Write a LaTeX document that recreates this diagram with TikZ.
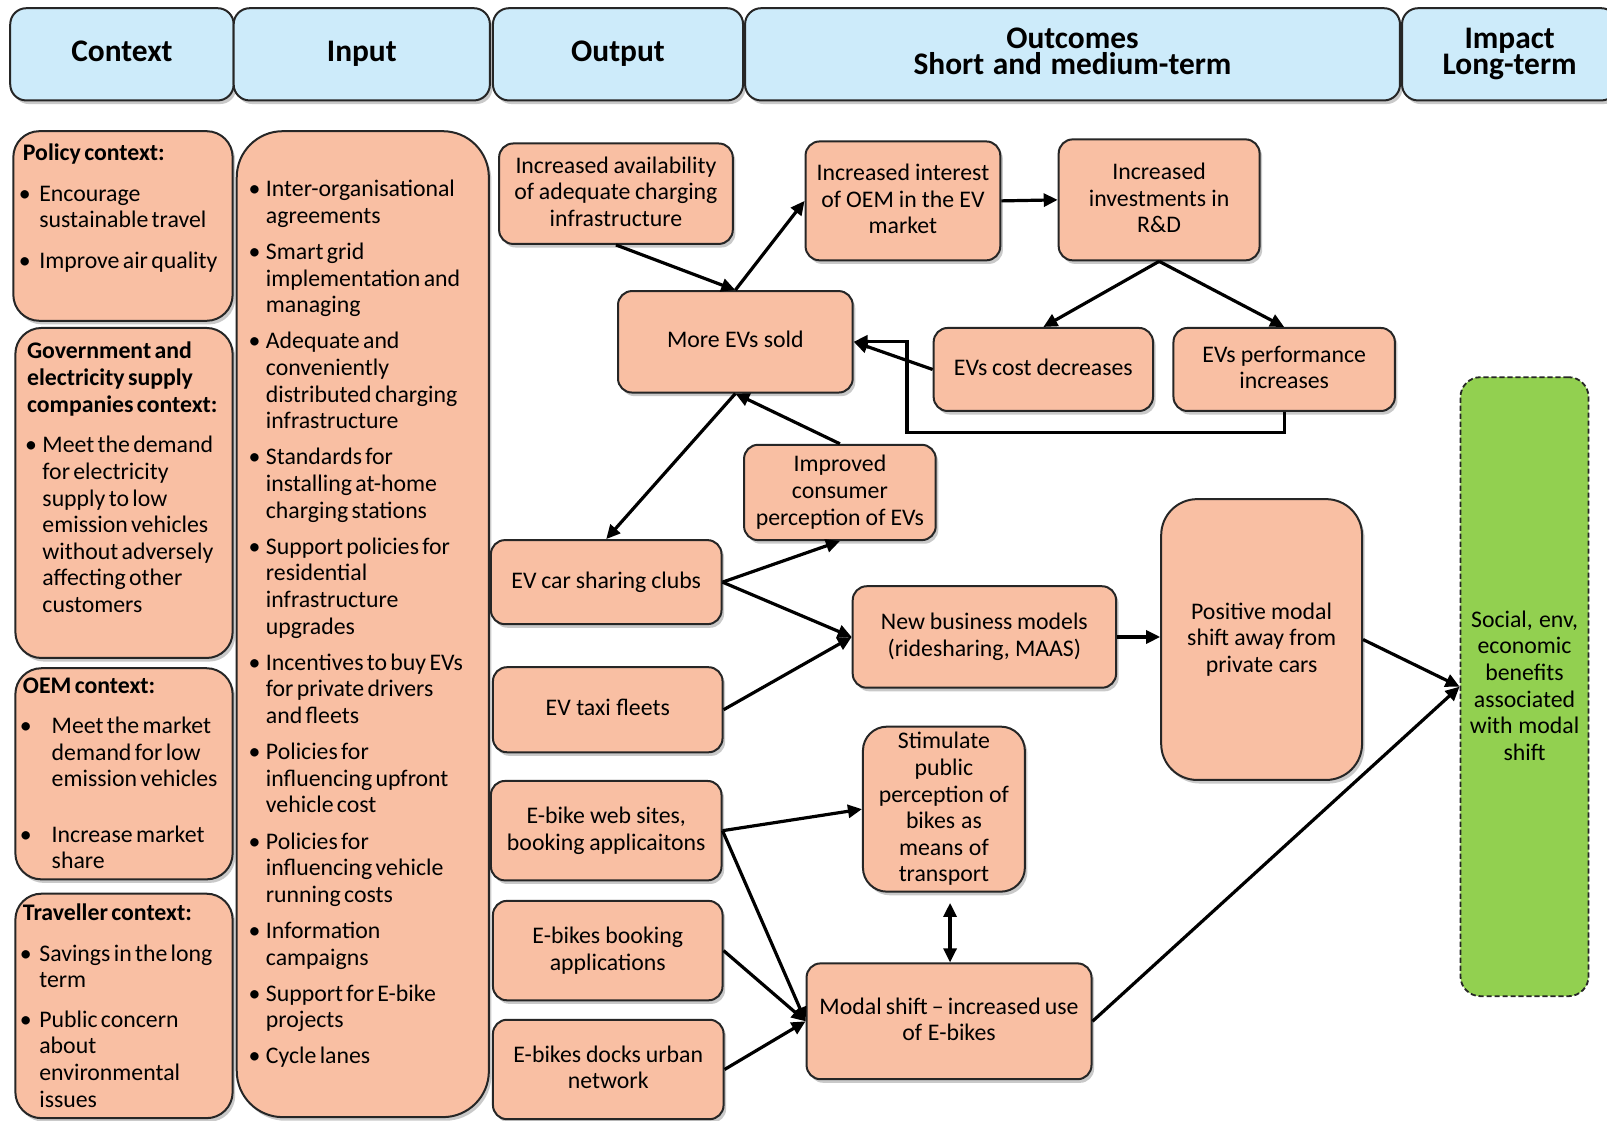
\documentclass[tikz,border=0pt]{standalone}
\usepackage{fontspec}
\setmainfont{Carlito}
\usetikzlibrary{arrows.meta,shadows,fit,calc}
\definecolor{hblue}{RGB}{205,235,250}
\definecolor{salmon}{RGB}{249,191,163}
\definecolor{lgreen}{RGB}{146,208,80}

% narrow word spaces inside text nodes
\newcommand{\narrowbody}{\spaceskip=0.14em plus 0.04em minus 0.02em\relax}
\newcommand{\narrowhead}{\spaceskip=0.17em plus 0.04em minus 0.02em\relax}

% bullet item: #1 space before, #2 bullet offset, #3 text indent, #4 lines (\newline between)
\newcommand{\bl}[4]{\par\vspace{#1}\hangindent=#3\hangafter=1\noindent
  \hspace*{#2}\makebox[\dimexpr#3-#2\relax][l]{\textbullet}#4}
% first bullet item of a block
\newcommand{\blfirst}[3]{\hangindent=#2\hangafter=1\noindent
  \hspace*{#1}\makebox[\dimexpr#2-#1\relax][l]{\textbullet}#3}

\tikzset{
  softshadow/.style={drop shadow={shadow xshift=1.3pt,shadow yshift=-1.8pt,opacity=0.35,fill=black!60}},
  hdr/.style={draw=black!85, line width=1pt, fill=hblue, rounded corners=8pt, softshadow, inner sep=0pt},
  sbox/.style={draw=black!85, line width=1pt, fill=salmon, rounded corners=7pt, softshadow, inner sep=0pt},
  gbox/.style={draw=black!85, line width=0.9pt, dash pattern=on 2.6pt off 1.4pt, fill=lgreen,
    rounded corners=10pt, inner sep=0pt},
  htxt/.style={anchor=base, inner sep=0pt, text width=320pt, align=center,
    font=\bfseries\fontsize{15.7}{13.4}\selectfont, execute at begin node=\narrowhead},
  btxt/.style={anchor=base, inner sep=0pt, text width=170pt, align=center,
    font=\fontsize{11.9}{13.33}\selectfont, execute at begin node=\narrowbody},
  ctxt/.style={inner sep=0pt, anchor=base west, text width=150pt, align=left,
    font=\fontsize{11.9}{13.33}\selectfont, execute at begin node=\narrowbody},
  arr/.style={line width=1.6pt, -{Triangle[length=7pt,width=6.5pt]}},
  darr/.style={line width=1.6pt, {Triangle[length=7pt,width=6.5pt]}-{Triangle[length=7pt,width=6.5pt]}},
}

\begin{document}
\begin{tikzpicture}[x=0.5125pt,y=-0.5125pt]
\useasboundingbox (0,0) rectangle (1568,1093);
\fill[white] (0,0) rectangle (1568,1093);

% column headers
\node[hdr, fit={(10,8)(228,98)}] (hctx) {};
\node[hdr, fit={(228,8)(478,98)}] (hin) {};
\node[hdr, fit={(481,8)(725,98)}] (hout) {};
\node[hdr, fit={(727,8)(1366,98)}] (houtc) {};
\node[hdr, fit={(1368,8)(1578,98)}] (himp) {};
\node[htxt] (hctx-t) at ($(hctx.center)+(0,7)$) {Context};
\node[htxt] (hin-t) at ($(hin.center)+(0,7)$) {Input};
\node[htxt] (hout-t) at ($(hout.center)+(0,7)$) {Output};
\node[htxt] (houtc-t) at ($(houtc.center)+(0,-6)$) {Outcomes\\Short and medium-term};
\node[htxt] (himp-t) at ($(himp.center)+(0,-6)$) {Impact\\Long-term};

% context column
\node[sbox, rounded corners=13pt, fit={(13,128)(227,313)}] (pol) {};
\node[sbox, rounded corners=13pt, fit={(15,320)(227,642)}] (gov) {};
\node[sbox, rounded corners=13pt, fit={(15,652)(227,858)}] (oemc) {};
\node[sbox, rounded corners=13pt, fit={(15,872)(227,1091)}] (trav) {};

\node[ctxt] (poltxt) at (22,157) {{\bfseries Policy context:}%
  \bl{6.8pt}{-2pt}{8.2pt}{Encourage\newline sustainable travel}%
  \bl{7pt}{-2pt}{8.2pt}{Improve air quality}\par};
\node[ctxt] (govtxt) at (26,350) {{\bfseries Government and\\electricity supply\\companies context:}%
  \bl{7pt}{-1pt}{7.7pt}{Meet the demand\newline for electricity\newline supply to low\newline emission vehicles\newline without adversely\newline affecting other\newline customers}\par};
\node[ctxt] (oemtxt) at (22,677) {{\bfseries OEM context:}%
  \bl{6.5pt}{-1.5pt}{14.4pt}{Meet the market\newline demand for low\newline emission vehicles}%
  \bl{14.4pt}{-1.5pt}{14.4pt}{Increase market\newline share}\par};
\node[ctxt] (travtxt) at (22,898) {{\bfseries Traveller context:}%
  \bl{7pt}{-1.5pt}{8.2pt}{Savings in the long\newline term}%
  \bl{6.5pt}{-1.5pt}{8.2pt}{Public concern\newline about\newline environmental\newline issues}\par};

% input column
\node[sbox, rounded corners=23pt, fit={(231,128)(477,1090)}] (inp) {};
\node[ctxt] (inptxt) at (246,192) {%
  \blfirst{-2pt}{6.7pt}{Inter-organisational\newline agreements}%
  \bl{4.7pt}{-2pt}{6.7pt}{Smart grid\newline implementation and\newline managing}%
  \bl{4.7pt}{-2pt}{6.7pt}{Adequate and\newline conveniently\newline distributed charging\newline infrastructure}%
  \bl{4.7pt}{-2pt}{6.7pt}{Standards for\newline installing at-home\newline charging stations}%
  \bl{4.7pt}{-2pt}{6.7pt}{Support policies for\newline residential\newline infrastructure\newline upgrades}%
  \bl{4.7pt}{-2pt}{6.7pt}{Incentives to buy EVs\newline for private drivers\newline and fleets}%
  \bl{4.7pt}{-2pt}{6.7pt}{Policies for\newline influencing upfront\newline vehicle cost}%
  \bl{4.7pt}{-2pt}{6.7pt}{Policies for\newline influencing vehicle\newline running costs}%
  \bl{4.7pt}{-2pt}{6.7pt}{Information\newline campaigns}%
  \bl{4.7pt}{-2pt}{6.7pt}{Support for E-bike\newline projects}%
  \bl{4.7pt}{-2pt}{6.7pt}{Cycle lanes}\par};

% output column
\node[sbox, fit={(487,140)(715,238)}] (avail) {};
\node[sbox, fit={(479,527)(704,609)}] (share) {};
\node[sbox, fit={(481,651)(705,734)}] (taxi) {};
\node[sbox, fit={(479,762)(704,859)}] (web) {};
\node[sbox, fit={(481,879)(705,976)}] (book) {};
\node[sbox, fit={(481,995)(706,1092)}] (dock) {};
\node[btxt] (avail-t) at ($(avail.center)+(0,-20)$) {Increased availability\\of adequate charging\\infrastructure};
\node[btxt] (share-t) at ($(share.center)+(0,6)$) {EV car sharing clubs};
\node[btxt] (taxi-t) at ($(taxi.center)+(0,6)$) {EV taxi fleets};
\node[btxt] (web-t) at ($(web.center)+(0,-7)$) {E-bike web sites,\\booking applicaitons};
\node[btxt] (book-t) at ($(book.center)+(0,-7)$) {E-bikes booking\\applications};
\node[btxt] (dock-t) at ($(dock.center)+(0,-7)$) {E-bikes docks urban\\network};

% outcomes
\node[sbox, fit={(786,138)(976,254)}] (oem) {};
\node[sbox, fit={(1033,136)(1229,254)}] (rd) {};
\node[sbox, fit={(603,284)(832,383)}] (more) {};
\node[sbox, fit={(911,320)(1125,401)}] (cost) {};
\node[sbox, fit={(1145,320)(1361,401)}] (perf) {};
\node[sbox, fit={(726,434)(913,527)}] (cons) {};
\node[sbox, fit={(832,572)(1089,671)}] (nbm) {};
\node[sbox, rounded corners=18pt, fit={(1133,487)(1329,761)}] (pos) {};
\node[sbox, rounded corners=12pt, fit={(842,709)(1000,870)}] (stim) {};
\node[sbox, fit={(787,940)(1065,1053)}] (ms) {};
\node[btxt] (oem-t) at ($(oem.center)+(0,-20)$) {Increased interest\\of OEM in the EV\\market};
\node[btxt] (rd-t) at ($(rd.center)+(0,-20)$) {Increased\\investments in\\R\&D};
\node[btxt] (more-t) at ($(more.center)+(0,6)$) {More EVs sold};
\node[btxt] (cost-t) at ($(cost.center)+(0,6)$) {EVs cost decreases};
\node[btxt] (perf-t) at ($(perf.center)+(0,-7)$) {EVs performance\\increases};
\node[btxt] (cons-t) at ($(cons.center)+(0,-20)$) {Improved\\consumer\\perception of EVs};
\node[btxt] (nbm-t) at ($(nbm.center)+(0,-7)$) {New business models\\(ridesharing, MAAS)};
\node[btxt] (pos-t) at ($(pos.center)+(0,-20)$) {Positive modal\\shift away from\\private cars};
\node[btxt] (stim-t) at ($(stim.center)+(0,-59)$) {Stimulate\\public\\perception of\\bikes as\\means of\\transport};
\node[btxt] (ms-t) at ($(ms.center)+(0,-7)$) {Modal shift -- increased use\\of E-bikes};

% impact
\node[gbox, fit={(1425,368)(1550,972)}] (ben) {};
\node[btxt] (ben-t) at ($(ben.center)+(0,-58)$) {Social, env,\\economic\\benefits\\associated\\with modal\\shift};

% connectors
\draw[arr] (avail.south) -- (more.north);
\draw[arr] (more.north) -- (oem.west);
\draw[arr] (oem.east) -- (rd.west);
\draw[arr] (rd.south) -- (cost.north);
\draw[arr] (rd.south) -- (perf.north);
\draw[arr] (cost.west) -- (more.east);
\draw[arr] (perf.south) -- ++(0,20) -| ($(more.east)+(52,0)$) -- (more.east);
\draw[arr] (more.south) -- (share.north);
\draw[arr] (cons.north) -- (more.south);
\draw[arr] (share.east) -- (cons.south);
\draw[arr] (share.east) -- (nbm.west);
\draw[arr] (taxi.east) -- (nbm.west);
\draw[arr] (nbm.east) -- (nbm.east -| pos.west);
\draw[arr] (pos.east) -- (ben.west);
\draw[arr] (ms.east) -- (ben.west);
\draw[arr] (web.east) -- (stim.west);
\draw[arr] (web.east) -- (ms.west);
\draw[arr] (book.east) -- (ms.west);
\draw[arr] (dock.east) -- (ms.west);
\draw[darr] ($(stim.south)+(6,10)$) -- ($(ms.north)+(1,0)$);
\end{tikzpicture}
\end{document}
